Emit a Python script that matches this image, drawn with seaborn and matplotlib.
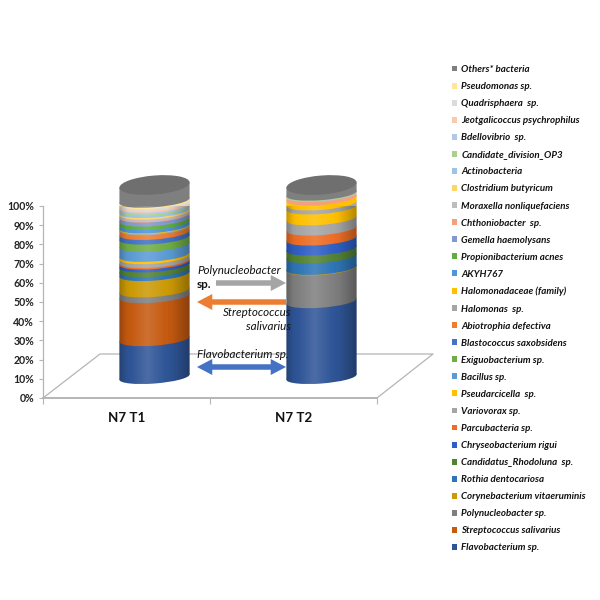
import numpy as np
import pandas as pd
import matplotlib
matplotlib.use("Agg")
import matplotlib.pyplot as plt
import seaborn as sns
from matplotlib.patches import Ellipse, Patch
from matplotlib.path import Path
from matplotlib.transforms import Affine2D
from matplotlib.ticker import FixedLocator

samples = ["N7 T1", "N7 T2"]

# bottom of the stack first
species = ["Flavobacterium sp.", "Streptococcus salivarius", "Polynucleobacter sp.",
           "Corynebacterium vitaeruminis", "Rothia dentocariosa", "Candidatus_Rhodoluna  sp.",
           "Chryseobacterium rigui", "Parcubacteria sp.", "Variovorax sp.", "Pseudarcicella  sp.",
           "Bacillus sp.", "Exiguobacterium sp.", "Blastococcus saxobsidens", "Abiotrophia defectiva",
           "Halomonas  sp.", "Halomonadaceae (family)", "AKYH767", "Propionibacterium acnes",
           "Gemella haemolysans", "Chthoniobacter  sp.", "Moraxella nonliquefaciens",
           "Clostridium butyricum", "Actinobacteria", "Candidate_division_OP3", "Bdellovibrio  sp.",
           "Jeotgalicoccus psychrophilus", "Quadrisphaera  sp.", "Pseudomonas sp.", "Others* bacteria"]

t1_values = [19.7, 22.4, 3.0, 8.5, 2.0, 2.5, 1.5, 0.8, 2.0, 1.2,
             5.2, 3.8, 2.4, 2.4, 0.6, 0.4, 1.8, 1.8,
             2.0, 0.4, 1.2, 0.8, 1.0, 0.9, 0.9, 1.0, 0.9, 0.7, 8.2]
t2_values = [39.5, 0.0, 17.0, 0.3, 6.0, 4.1, 5.2, 5.2, 5.3, 5.7,
             0.0, 0.0, 0.0, 0.0, 2.1, 2.6, 0.0, 0.0,
             0.0, 1.7, 0.4, 0.0, 0.0, 0.4, 0.0, 0.0, 0.0, 0.0, 4.5]

colors = ["#2F5597", "#C55A11", "#7F7F7F", "#CC9A06", "#2E75B6", "#548235", "#2F5FC4", "#ED6D25",
          "#A5A5A5", "#FFC000", "#5B9BD5", "#70AD47", "#4472C4", "#ED7D31", "#A5A5A5", "#FFC000",
          "#4E95D9", "#5FAE3C", "#8497CF", "#F4A07E", "#BDBDBD", "#FFD56B", "#9DC3E6", "#A9D18E",
          "#B4C7E7", "#F8CBAD", "#DBDBDB", "#FFE699", "#7F7F7F"]

y_ticks = list(range(0, 101, 10))

sns.set_style("white")
plt.rcParams["font.family"] = ["Lato", "DejaVu Sans"]

fig = plt.figure(figsize=(6, 6), dpi=100)
ax = fig.add_axes([43 / 600, 1 - 398 / 600, 334 / 600, 192 / 600])
ax.patch.set_alpha(0)

# image pixel coordinates, for the annotations around the chart
pix = Affine2D().scale(1 / 600, -1 / 600).translate(0, 1) + fig.transFigure

bar_w = 0.42
dx, dy = 28 / 167, 21 / 1.92   # 3d depth of the columns
skew = 0.075 * 167 / 1.92      # tilt of the columns


def depth(i):
    m = np.array([[1, 0, i + dx], [skew, 1, dy], [0, 0, 1]], dtype=float)
    return Affine2D().translate(-i, 0) + Affine2D(m) + ax.transData


ax.set_xlim(-0.5, 1.5)
ax.set_ylim(0, 100)

# floor of the chart
ax.plot([43, 100, 433, 377], [398, 354, 354, 398], transform=pix, color="#b5b5b5", lw=0.9,
        clip_on=False, zorder=0.5)

bottom = np.zeros(2)
for j, name in enumerate(species):
    vals = np.array([t1_values[j], t2_values[j]])
    df = pd.DataFrame({"sample": samples, "value": vals})
    n_before = len(ax.patches)
    sns.barplot(data=df, x="sample", y="value", order=samples, color=colors[j], saturation=1,
                width=bar_w, bottom=bottom, linewidth=0, ax=ax, zorder=2 + j * 0.01)
    new_bars = ax.patches[n_before:]
    for i, bar in enumerate(new_bars):
        bar.set_transform(depth(i))
        bar.set_clip_on(False)
        if vals[i] > 0:
            ax.add_patch(Ellipse((i, bottom[i]), bar_w, 13 / 1.92, facecolor=colors[j], lw=0,
                                 transform=depth(i), clip_on=False, zorder=2 + j * 0.01))
    bottom = bottom + vals

# shading round the columns: black at the sides, a little white in the middle
shade = np.interp(np.linspace(0, 1, 80), [0, 0.1, 0.4, 0.75, 1], [0.24, 0.04, -0.14, 0.04, 0.3])
shade_img = np.zeros((1, 80, 4))
shade_img[0, :, :3] = (shade < 0)[:, None]
shade_img[0, :, 3] = np.abs(shade)
t = np.linspace(np.pi, 2 * np.pi, 40)
for i in range(2):
    xs = i + bar_w / 2 * np.cos(t)
    ys = 13 / 1.92 / 2 * np.sin(t)
    outline = np.vstack([np.column_stack([xs, ys]), [[i + bar_w / 2, 100], [i - bar_w / 2, 100]]])
    im = ax.imshow(shade_img, extent=[i + dx - bar_w / 2, i + dx + bar_w / 2, -20, 130], aspect="auto",
                   zorder=3, interpolation="bilinear")
    im.set_clip_path(Path(outline), depth(i))
    ax.add_patch(Ellipse((i, 100), bar_w, 19 / 1.92, facecolor="#6F6F6F", lw=0, transform=depth(i),
                         clip_on=False, zorder=3.1))

ax.set_xlim(-0.5, 1.5)
ax.set_ylim(0, 100)
ax.set_xlabel("")
ax.set_ylabel("")

sns.despine(ax=ax)
for side in ["left", "bottom"]:
    ax.spines[side].set_color("#b5b5b5")
ax.spines["left"].set_linewidth(0.9)
ax.spines["bottom"].set_linewidth(1.4)

ax.set_yticks(y_ticks)
ax.set_yticklabels([f"{v}%" for v in y_ticks], fontsize=7.6, fontweight="bold", color="#222222")
ax.tick_params(axis="y", length=3, width=0.8, color="#b5b5b5", pad=3.5, left=True)
ax.set_xticks([0, 1])
ax.set_xticklabels(samples, fontsize=9.6, fontweight="bold", color="#111111")
ax.xaxis.set_minor_locator(FixedLocator([-0.5, 0.5, 1.5]))
ax.tick_params(axis="x", which="major", length=0, pad=10)
ax.tick_params(axis="x", which="minor", length=4, width=0.8, color="#b5b5b5", bottom=True)


# arrows between the columns
def arrow(x0, x1, y, col):
    ax.annotate("", xy=(x1, y), xytext=(x0, y), xycoords=pix, textcoords=pix, zorder=5,
                annotation_clip=False,
                arrowprops=dict(arrowstyle="simple,head_length=1.0,head_width=1.05,tail_width=0.36",
                                mutation_scale=11, color=col, lw=0, shrinkA=0, shrinkB=0))


arrow(216, 286, 283, "#A5A5A5")
arrow(286, 197, 302, "#ED7D31")
arrow(241, 286, 367, "#4472C4")
arrow(241, 197, 367, "#4472C4")


def note(x, y, s, ha="left", style="italic", weight="normal"):
    ax.text(x, y, s, transform=pix, ha=ha, va="center", fontsize=8.4, style=style, weight=weight,
            color="#111111", zorder=6, clip_on=False)


note(197, 270, "Polynucleobacter")
note(197, 285, "sp.", style="normal", weight="bold")
note(291, 312, "Streptococcus", ha="right")
note(291, 326, "salivarius", ha="right")
note(197, 355, "Flavobacterium sp.")

# legend, top entry first
handles = [Patch(facecolor=c, edgecolor="none", label=s) for s, c in zip(species[::-1], colors[::-1])]
leg = ax.legend(handles=handles, loc="upper left", bbox_to_anchor=(452, 65), bbox_transform=pix,
                frameon=False, fontsize=7, labelspacing=0.83, handlelength=0.55, handleheight=0.55,
                handletextpad=0.4, borderpad=0, borderaxespad=0)
for txt in leg.get_texts():
    txt.set_fontstyle("italic")
    txt.set_fontweight("bold")
    txt.set_color("#111111")

fig.savefig("out.png", dpi=100)
